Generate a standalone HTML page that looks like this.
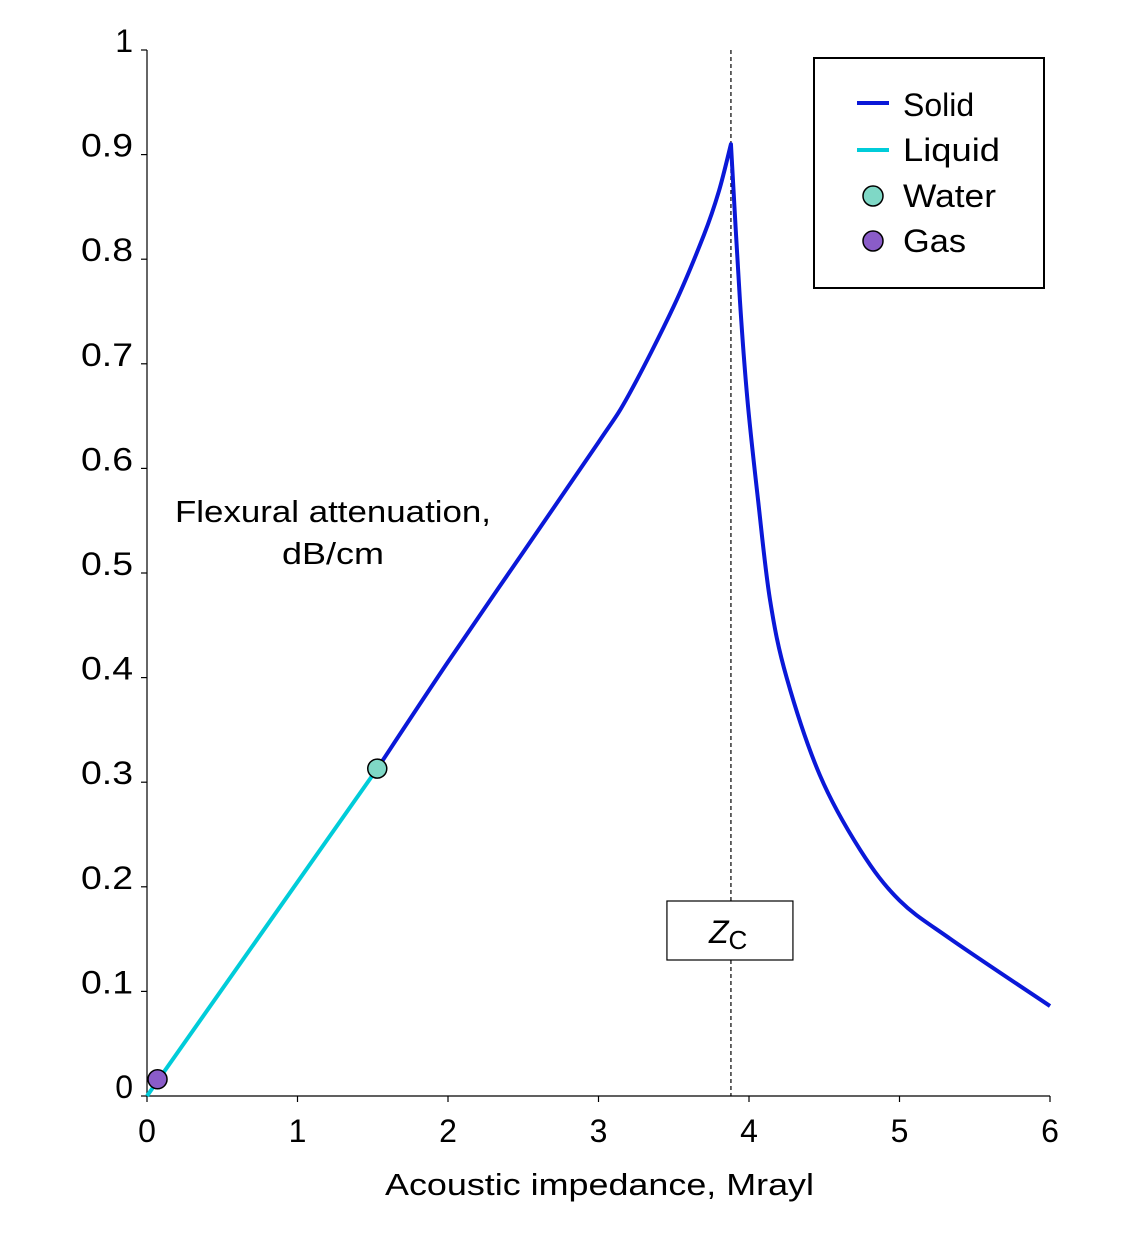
<!DOCTYPE html>
<html><head><meta charset="utf-8"><style>
body{margin:0;background:#fff}
svg{display:block;font-family:"Liberation Sans",sans-serif}
</style></head><body>
<svg id="chart" width="1140" height="1245" viewBox="0 0 1140 1245">
<g id="axes"></g>
<g id="marks"></g>
<text x="175" y="522" font-size="31" textLength="316" lengthAdjust="spacingAndGlyphs">Flexural attenuation,</text>
<text x="282" y="564" font-size="31" textLength="102" lengthAdjust="spacingAndGlyphs">dB/cm</text>
<text x="385" y="1195" font-size="31" textLength="429" lengthAdjust="spacingAndGlyphs">Acoustic impedance, Mrayl</text>
<g>
<rect x="814" y="58" width="230" height="230" fill="#fff" stroke="#000" stroke-width="2"/>
<line x1="857" y1="103" x2="889" y2="103" stroke="#0a18d8" stroke-width="4"/>
<text x="903" y="116" font-size="32">Solid</text>
<line x1="857" y1="150" x2="889" y2="150" stroke="#00ccd9" stroke-width="4"/>
<text x="903" y="161" font-size="32" textLength="97" lengthAdjust="spacingAndGlyphs">Liquid</text>
<circle cx="873" cy="196" r="10" fill="#7fd8c6" stroke="#000" stroke-width="1.5"/>
<text x="903" y="207" font-size="32" textLength="93" lengthAdjust="spacingAndGlyphs">Water</text>
<circle cx="873" cy="241" r="10" fill="#8a5cc8" stroke="#000" stroke-width="1.5"/>
<text x="903" y="252" font-size="32" textLength="63" lengthAdjust="spacingAndGlyphs">Gas</text>
</g>
</svg>
<script>
const xTicks=[0,1,2,3,4,5,6];
const yTicks=[0,0.1,0.2,0.3,0.4,0.5,0.6,0.7,0.8,0.9,1];
const yTickLabels=["0","0.1","0.2","0.3","0.4","0.5","0.6","0.7","0.8","0.9","1"];
const liquidX=[0,1.53];
const liquidY=[0,0.313];
const solidX=[1.53,2.0,2.5,3.0,3.2,3.5,3.7,3.8,3.88];
const solidY=[0.313,0.415,0.52,0.625,0.67,0.755,0.823,0.865,0.91];
const tailX=[3.88,3.94,3.99,4.06,4.14,4.25,4.47,4.74,5.0,5.34,6.0];
const tailY=[0.91,0.76,0.665,0.57,0.474,0.4,0.307,0.235,0.187,0.15,0.086];
const waterPoint=[1.53,0.313];
const gasPoint=[0.07,0.016];
const zc=3.88;
const NS="http://www.w3.org/2000/svg";
function sx(v){return 147+v*150.5;}
function sy(v){return 1096-v*1046;}
function mk(parent,tag,attrs){const e=document.createElementNS(NS,tag);for(const k in attrs)e.setAttribute(k,attrs[k]);parent.appendChild(e);return e;}
function smooth(xs,ys){
 const p=xs.map((x,i)=>[sx(x),sy(ys[i])]);
 let d='M'+p[0][0]+','+p[0][1];
 for(let i=0;i<p.length-1;i++){
  const a=p[Math.max(0,i-1)],b=p[i],c=p[i+1],n=p[Math.min(p.length-1,i+2)];
  const c1=[b[0]+(c[0]-a[0])/6,b[1]+(c[1]-a[1])/6],c2=[c[0]-(n[0]-b[0])/6,c[1]-(n[1]-b[1])/6];
  d+=' C'+c1+' '+c2+' '+c;
 }
 return d;
}
const ax=document.getElementById('axes'),mg=document.getElementById('marks');
let e=mk(ax,'line',{x1:147,y1:50,x2:147,y2:1096,stroke:'#000','stroke-width':1.2});


e=mk(ax,'line',{x1:147,y1:1096,x2:1050,y2:1096,stroke:'#000','stroke-width':1.2});


xTicks.forEach(t=>{
 mk(ax,'line',{x1:sx(t),y1:1096,x2:sx(t),y2:1102,stroke:'#000','stroke-width':1.2});
 const tx=mk(ax,'text',{x:sx(t),y:1142,'font-size':32,'text-anchor':'middle'});tx.textContent=t;
 
 
});
yTicks.forEach((t,i)=>{
 mk(ax,'line',{x1:141,y1:sy(t),x2:147,y2:sy(t),stroke:'#000','stroke-width':1.2});
 const lbl=yTickLabels[i];
 const attrs={x:133,y:sy(t)+2,'font-size':32,'text-anchor':'end'};
 if(lbl.length>1){attrs.textLength=52;attrs.lengthAdjust='spacingAndGlyphs';}
 const tx=mk(ax,'text',attrs);tx.textContent=lbl;
 
 
});
e=mk(mg,'line',{x1:sx(zc),y1:50,x2:sx(zc),y2:1096,stroke:'#000','stroke-width':1.2,'stroke-dasharray':'4,3'});


const zb=mk(mg,'g',{});


mk(zb,'rect',{x:sx(zc)-64,y:901,width:126,height:59,fill:'#fff',stroke:'#000','stroke-width':1.2});
const zt=mk(zb,'text',{x:sx(zc)-22,y:943,'font-size':32});
zt.innerHTML='<tspan font-style="italic">Z</tspan><tspan font-size="26" dy="6">C</tspan>';
e=mk(mg,'path',{d:smooth(liquidX,liquidY),fill:'none',stroke:'#00ccd9','stroke-width':4});


e=mk(mg,'path',{d:smooth(solidX,solidY)+' '+smooth(tailX,tailY).replace('M',' L'),fill:'none',stroke:'#0a18d8','stroke-width':4,'stroke-linejoin':'round'});


e=mk(mg,'circle',{cx:sx(waterPoint[0]),cy:sy(waterPoint[1]),r:9.5,fill:'#7fd8c6',stroke:'#000','stroke-width':1.5});


e=mk(mg,'circle',{cx:sx(gasPoint[0]),cy:sy(gasPoint[1]),r:9.5,fill:'#8a5cc8',stroke:'#000','stroke-width':1.5});


</script>
</body></html>
